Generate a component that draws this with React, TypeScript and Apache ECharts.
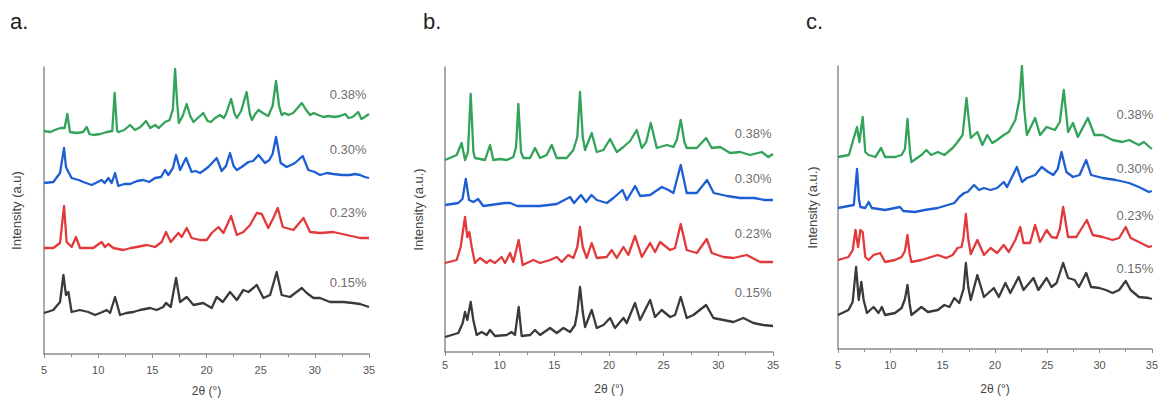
import React, { useEffect, useRef } from "react";
import * as echarts from "echarts";

// ---------- data (2θ in degrees, intensity in arbitrary stacked units) ----------
const PANEL_LETTERS = ["a.", "b.", "c."];
const Y_NAMES = ["Intensity (a.u)", "Intensity (a.u.)", "Intensity (a.u.)"];
const SAMPLES = ["0.15%", "0.23%", "0.30%", "0.38%"];
const COLORS = ["#3a3a3a", "#e23a3a", "#1d5fd3", "#33a35a"];
const X_TICKS_MIN = 5;
const X_TICKS_MAX = 35;
const X_TICK_STEP = 5;
const Y_MAX = [287, 285, 283];

// panel a
const a15 = [[5.0,41],[5.86,44],[6.48,52],[6.79,79],[7.03,59],[7.25,62],[7.55,42],[8.3,44],[9.09,42],[9.71,39],[10.4,42],[10.79,44],[11.1,41],[11.56,57],[12.02,39],[12.6,41],[13.25,42],[13.86,44],[14.79,46],[15.4,44],[16.0,47],[16.26,51],[16.7,47],[17.19,76],[17.56,52],[18.17,57],[18.8,49],[19.7,51],[20.48,46],[20.94,57],[21.5,52],[22.17,62],[22.8,54],[23.4,64],[23.87,62],[24.64,69],[25.25,56],[25.87,59],[26.48,82],[26.94,59],[27.71,57],[28.8,66],[29.25,61],[29.87,56],[30.48,56],[31.4,52],[32.64,52],[33.5,51],[34.18,50],[35.0,47]];
const a23 = [[5.0,106],[5.86,106],[6.48,111],[6.85,148],[7.09,112],[7.55,107],[7.95,117],[8.32,106],[9.0,106],[9.55,106],[10.32,112],[10.63,107],[10.94,110],[11.4,106],[12.33,104],[13.0,106],[13.56,107],[14.48,109],[15.25,107],[15.86,112],[16.26,122],[16.7,112],[17.4,121],[17.71,117],[18.17,126],[18.63,116],[19.4,114],[20.02,114],[20.48,121],[21.1,127],[21.56,121],[22.27,138],[22.8,119],[23.4,122],[24.02,129],[24.64,141],[25.1,140],[25.7,126],[26.17,136],[26.58,146],[27.04,127],[28.02,124],[28.95,136],[29.56,122],[30.48,121],[31.7,122],[32.95,119],[34.18,116],[35.0,116]];
const a30 = [[5.0,171],[5.86,172],[6.48,181],[6.85,206],[7.03,187],[7.25,182],[7.55,176],[8.2,174],[8.63,172],[9.4,169],[10.32,174],[10.6,171],[10.94,176],[11.25,171],[11.56,181],[11.86,168],[12.4,170],[12.94,170],[13.6,173],[14.17,174],[14.7,172],[15.25,176],[15.8,177],[16.17,184],[16.48,179],[16.9,186],[17.19,199],[17.56,184],[18.11,196],[18.63,182],[19.0,183],[19.4,181],[19.8,184],[20.17,187],[20.94,196],[21.4,183],[21.8,188],[22.17,201],[22.5,188],[22.8,184],[23.25,187],[23.87,192],[24.3,193],[24.8,199],[25.4,191],[25.8,194],[26.1,200],[26.42,217],[26.85,191],[27.4,187],[27.8,189],[28.17,191],[28.88,198],[29.4,184],[30.0,182],[30.48,179],[31.1,181],[31.7,180],[32.5,179],[33.25,179],[33.7,180],[34.18,179],[34.6,177],[35.0,176]];
const a38 = [[5.0,223],[5.6,222],[6.0,224],[6.5,226],[6.9,226],[7.15,240],[7.4,222],[8.0,221],[8.6,222],[8.94,227],[9.2,220],[9.55,219],[10.2,220],[10.8,222],[11.3,223],[11.52,261],[11.75,223],[11.9,222],[12.4,224],[12.94,229],[13.4,224],[13.9,227],[14.42,233],[14.8,226],[15.25,229],[15.6,226],[16.17,232],[16.6,234],[16.9,245],[17.1,285],[17.3,250],[17.45,231],[17.8,238],[18.17,250],[18.5,238],[18.8,232],[19.2,236],[19.7,241],[20.1,233],[20.4,232],[20.8,236],[21.25,239],[21.6,236],[21.8,240],[22.27,255],[22.6,240],[22.8,236],[23.2,243],[23.7,262],[24.0,240],[24.2,234],[24.5,240],[24.8,244],[25.2,241],[25.7,238],[26.1,248],[26.42,273],[26.7,248],[26.94,239],[27.2,241],[27.56,239],[28.0,241],[28.4,246],[28.8,251],[29.2,244],[29.56,239],[29.9,241],[30.3,239],[30.8,237],[31.3,238],[31.8,237],[32.33,238],[32.8,240],[33.1,236],[33.5,237],[34.0,242],[34.3,235],[34.6,237],[35.0,240]];

// panel b
const b15 = [[5.0,15],[6.22,19],[6.62,29],[6.83,40],[7.04,32],[7.35,50],[7.59,32],[7.9,17],[8.35,20],[8.81,17],[9.12,22],[9.57,16],[10.64,17],[11.1,20],[11.4,17],[11.74,45],[12.01,16],[12.78,17],[13.23,22],[13.69,17],[14.61,24],[15.22,19],[15.83,24],[16.44,20],[16.89,27],[17.1,40],[17.35,65],[17.6,40],[17.81,25],[18.42,42],[18.88,24],[19.49,27],[20.1,34],[20.55,24],[21.32,34],[21.62,29],[22.38,49],[22.84,32],[23.76,52],[24.21,35],[24.82,42],[25.59,35],[26.04,37],[26.56,55],[27.11,34],[27.72,37],[28.88,47],[29.55,34],[30.46,32],[31.38,30],[32.29,34],[33.21,29],[34.1,27],[35.0,26]];
const b23 = [[5.0,89],[6.07,92],[6.43,105],[6.83,135],[7.04,115],[7.23,120],[7.44,105],[7.74,89],[8.2,94],[8.81,89],[9.12,92],[9.57,89],[10.18,95],[10.49,89],[10.95,99],[11.25,90],[11.74,112],[12.1,87],[13.08,92],[13.69,89],[14.61,92],[15.22,95],[15.67,90],[16.28,97],[16.74,94],[17.1,105],[17.35,125],[17.6,105],[17.96,94],[18.42,109],[18.88,94],[19.79,95],[20.25,102],[20.71,94],[21.32,105],[21.77,97],[22.38,116],[23.0,95],[23.76,109],[24.21,100],[24.67,110],[25.59,102],[26.04,104],[26.56,128],[27.11,102],[28.03,99],[28.94,113],[29.4,99],[30.46,95],[31.38,94],[32.6,97],[33.82,90],[35.0,90]];
const b30 = [[5.0,147],[6.21,149],[6.6,153],[6.9,173],[7.2,152],[7.6,150],[8.03,153],[8.5,146],[10.5,149],[10.97,149],[11.6,146],[13.69,146],[15.22,148],[16.44,155],[16.8,149],[17.44,157],[17.9,150],[18.4,157],[18.88,152],[19.8,149],[20.4,154],[21.23,162],[21.63,152],[22.39,166],[22.85,156],[23.76,157],[24.83,165],[25.43,162],[25.89,159],[26.56,187],[27.11,159],[28.03,159],[28.97,172],[29.58,159],[30.8,156],[32.0,154],[33.3,154],[34.2,152],[35.0,152]];
const b38 = [[5.0,192],[6.07,197],[6.52,209],[6.83,192],[7.1,200],[7.35,258],[7.6,200],[7.74,194],[8.66,192],[9.12,207],[9.42,192],[10.0,193],[10.64,192],[11.25,195],[11.5,205],[11.71,248],[11.95,200],[12.17,194],[12.78,194],[13.23,204],[13.69,194],[14.3,197],[14.76,207],[15.22,194],[16.13,194],[16.74,202],[17.1,215],[17.35,260],[17.6,215],[17.81,202],[18.42,219],[18.88,200],[19.49,202],[20.1,213],[20.71,200],[21.32,205],[21.93,211],[22.54,222],[23.0,204],[23.4,210],[23.82,229],[24.37,204],[25.28,207],[25.89,205],[26.2,212],[26.56,232],[26.9,210],[27.11,204],[28.03,204],[28.88,214],[29.4,204],[30.16,205],[31.08,199],[32.0,200],[32.9,197],[33.97,200],[34.58,195],[35.0,198]];

// panel c
const c15 = [[5.0,34],[6.0,39],[6.4,47],[6.73,82],[6.98,49],[7.23,67],[7.45,49],[7.77,36],[8.4,42],[8.87,36],[9.19,42],[9.5,34],[10.45,36],[11.08,41],[11.4,50],[11.64,64],[11.85,45],[12.02,34],[12.97,42],[13.6,37],[14.54,39],[15.17,44],[15.65,42],[16.12,51],[16.59,46],[17.0,60],[17.22,86],[17.45,62],[17.69,49],[18.32,74],[18.95,52],[19.9,61],[20.37,52],[21.0,66],[21.47,56],[22.26,72],[22.73,59],[23.68,71],[24.15,59],[24.94,71],[25.41,62],[25.89,66],[26.52,86],[26.99,71],[27.62,69],[28.03,62],[28.72,76],[29.19,62],[29.98,61],[30.61,59],[31.24,56],[31.87,59],[32.5,68],[32.97,59],[33.76,52],[34.71,51],[35.0,50]];
const c23 = [[5.0,89],[6.0,92],[6.41,99],[6.67,119],[6.92,102],[7.14,119],[7.36,117],[7.61,92],[7.93,89],[8.4,94],[9.03,96],[9.5,87],[10.45,89],[11.08,92],[11.4,98],[11.64,114],[11.85,95],[12.02,87],[12.97,89],[13.91,92],[14.54,94],[15.33,91],[15.96,94],[16.43,101],[16.81,102],[17.0,112],[17.22,135],[17.45,110],[17.69,95],[18.32,109],[18.95,94],[19.58,101],[20.21,96],[20.84,104],[21.32,97],[21.95,109],[22.42,122],[22.73,106],[23.36,106],[23.84,124],[24.31,107],[24.94,119],[25.41,112],[25.89,111],[26.2,120],[26.52,142],[26.99,112],[27.78,112],[28.78,129],[29.35,114],[30.3,112],[31.24,109],[31.87,111],[32.5,122],[32.97,111],[33.76,107],[34.71,102],[35.0,103]];
const c30 = [[5.0,141],[6.0,143],[6.51,144],[6.82,180],[7.0,150],[7.14,142],[7.6,141],[7.93,147],[8.24,141],[9.5,139],[10.45,141],[10.92,142],[11.24,138],[12.34,137],[13.28,139],[14.54,141],[15.49,144],[16.12,146],[16.59,152],[17.06,156],[17.38,157],[18.01,164],[18.48,159],[18.95,161],[19.58,159],[20.21,161],[20.84,167],[21.16,162],[21.63,172],[22.1,182],[22.58,167],[23.05,171],[23.84,174],[24.47,182],[25.1,177],[25.57,174],[26.0,180],[26.36,197],[26.83,177],[27.46,172],[28.09,174],[28.72,189],[29.19,174],[30.3,171],[31.56,169],[32.82,166],[33.76,162],[34.71,157],[35.0,158]];
const c38 = [[5.0,192],[6.04,194],[6.51,211],[6.82,222],[7.04,207],[7.36,232],[7.61,197],[7.93,194],[8.56,192],[9.12,201],[9.5,192],[10.45,192],[11.08,194],[11.4,200],[11.64,230],[11.9,195],[12.02,187],[12.97,194],[13.44,199],[13.91,194],[14.54,197],[15.17,194],[15.96,201],[16.43,207],[16.91,214],[17.28,251],[17.69,211],[18.32,217],[18.8,204],[19.27,214],[19.74,206],[20.21,209],[20.84,214],[21.32,217],[21.95,229],[22.35,250],[22.58,283],[22.8,240],[23.05,214],[23.84,231],[24.31,214],[24.94,222],[25.73,219],[26.2,227],[26.58,259],[26.99,217],[27.46,226],[27.93,212],[28.88,231],[29.51,214],[30.3,214],[31.24,209],[32.19,207],[32.82,209],[33.76,204],[34.23,207],[35.0,200]];

const PANEL_SERIES = [
  [a15, a23, a30, a38],
  [b15, b23, b30, b38],
  [c15, c23, c30, c38],
];

// sample label anchors (2θ, intensity) per panel, in SAMPLES order
const labelsA = [[33.07, 72], [33.07, 142], [33.07, 205], [33.07, 260]];
const labelsB = [[33.18, 60], [33.18, 119], [33.18, 174], [33.18, 219]];
const labelsC = [[33.38, 81], [33.38, 134], [33.38, 181], [33.38, 235]];
const PANEL_LABELS = [labelsA, labelsB, labelsC];

// ---------- layout ----------
const GRIDS = [
  { left: 44, top: 67, width: 325, height: 287 },
  { left: 445, top: 67, width: 328, height: 285 },
  { left: 838, top: 66, width: 317, height: 283 },
];
const LABEL_MARGIN = [10, 7, 10];
const NAME_GAP = [31, 31, 34];
const LETTER_LEFT = [10, 423, 806];
const Y_NAME_GAP = [21, 20, 19];

const FONT = "'Liberation Sans', Arial, sans-serif";

function buildOption() {
  const grid = GRIDS.map((g) => ({ ...g, containLabel: false }));
  const xAxis = GRIDS.map((_, i) => ({
    type: "value",
    gridIndex: i,
    min: X_TICKS_MIN,
    max: X_TICKS_MAX,
    interval: X_TICK_STEP,
    name: "2θ (°)",
    nameLocation: "middle",
    nameGap: NAME_GAP[i],
    nameTextStyle: { fontFamily: FONT, fontSize: 12, color: "#444" },
    axisLine: { show: true, onZero: false, lineStyle: { color: "#8c8c8c", width: 1.5 } },
    axisTick: { show: true, inside: false, length: 4, lineStyle: { color: "#8c8c8c" } },
    minorTick: { show: true, splitNumber: 2, length: 3, lineStyle: { color: "#8c8c8c" } },
    splitLine: { show: false },
    minorSplitLine: { show: false },
    axisLabel: { fontFamily: FONT, fontSize: 11, color: "#555", margin: LABEL_MARGIN[i] },
  }));
  const yAxis = GRIDS.map((_, i) => ({
    type: "value",
    gridIndex: i,
    min: 0,
    max: Y_MAX[i],
    name: Y_NAMES[i],
    nameLocation: "middle",
    nameRotate: 90,
    nameGap: Y_NAME_GAP[i],
    nameTextStyle: { fontFamily: FONT, fontSize: 13, color: "#444" },
    axisLine: { show: true, lineStyle: { color: "#8c8c8c", width: 1.5 } },
    axisTick: { show: false },
    axisLabel: { show: false },
    splitLine: { show: false },
  }));
  const series: any[] = [];
  PANEL_SERIES.forEach((curves, p) => {
    curves.forEach((data, k) => {
      series.push({
        type: "line",
        name: `${PANEL_LETTERS[p]} ${SAMPLES[k]}`,
        xAxisIndex: p,
        yAxisIndex: p,
        data,
        showSymbol: false,
        symbol: "none",
        lineStyle: { color: COLORS[k], width: 2.3, join: "round" },
        z: 2,
      });
    });
    series.push({
      type: "scatter",
      xAxisIndex: p,
      yAxisIndex: p,
      symbolSize: 1,
      itemStyle: { color: "transparent" },
      silent: true,
      data: PANEL_LABELS[p].map((pos, k) => ({ value: pos, name: SAMPLES[k] })),
      label: {
        show: true,
        position: "inside",
        formatter: "{b}",
        fontFamily: FONT,
        fontSize: 13,
        color: "#444",
      },
      z: 3,
    });
  });
  const title = PANEL_LETTERS.map((t, i) => ({
    text: t,
    left: LETTER_LEFT[i],
    top: 10,
    padding: 0,
    textStyle: { fontFamily: FONT, fontSize: 22, fontWeight: "normal", color: "#222" },
  }));
  return {
    animation: false,
    backgroundColor: "#ffffff",
    title,
    grid,
    xAxis,
    yAxis,
    series,
  };
}

export default function App() {
  const ref = useRef<HTMLDivElement>(null);
  useEffect(() => {
    if (!ref.current) return;
    const chart = echarts.init(ref.current, null, { renderer: "svg" });
    chart.setOption(buildOption() as any);
    return () => chart.dispose();
  }, []);
  return (
    <div
      ref={ref}
      style={{ position: "fixed", left: 0, top: 0, width: 1161, height: 403, background: "#fff" }}
    />
  );
}
